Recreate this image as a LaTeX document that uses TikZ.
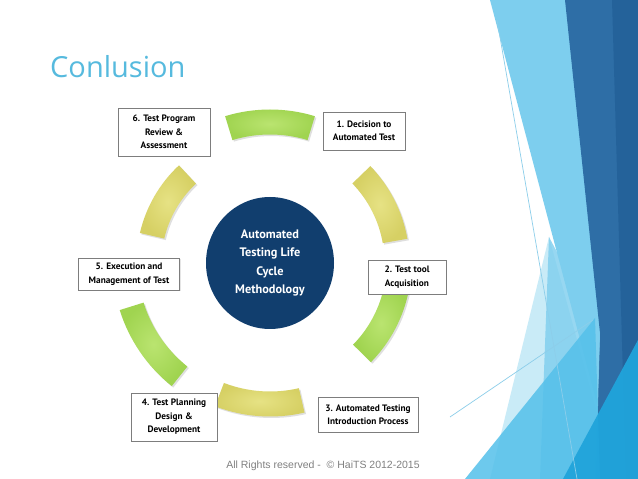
\documentclass[tikz,border=0pt]{standalone}
\usepackage{fontspec}
\setmainfont{PT Sans}
\newfontfamily\titlefont{Open Sans}
\newfontfamily\footfont{Liberation Sans}
\usetikzlibrary{shapes.geometric, shadows, calc}

\definecolor{titleblue}{RGB}{86,186,222}
\definecolor{hubblue}{RGB}{17,62,110}
\definecolor{boxgray}{RGB}{125,125,125}
\definecolor{segGreen}{RGB}{160,212,80}
\definecolor{segGreenLt}{RGB}{186,228,112}
\definecolor{segYellow}{RGB}{214,208,100}
\definecolor{segYellowLt}{RGB}{230,226,132}
\definecolor{bandLight}{RGB}{125,206,238}
\definecolor{bandPale}{RGB}{196,233,247}
\definecolor{bandMid}{RGB}{84,192,234}
\definecolor{bandDark}{RGB}{46,110,166}
\definecolor{bandDarker}{RGB}{36,98,154}
\definecolor{bandBright}{RGB}{32,164,219}
\definecolor{thinLine}{RGB}{140,206,234}

% ring segment: angle, radius, inner colour, outer colour
\newcommand{\ringseg}[4]{%
  \shade[segment, inner color=#3, outer color=#4]
    ($(hub.center)+({#1-17}:{#2+12.5})$) arc[start angle={#1-17}, end angle={#1+17}, radius={#2+12.5}]
    -- ($(hub.center)+({#1+17}:{#2-12.5})$) arc[start angle={#1+17}, end angle={#1-17}, radius={#2-12.5}] -- cycle;}

\begin{document}
\begin{tikzpicture}[x=1pt, y=1pt,
  stage/.style={draw=boxgray, fill=white, line width=0.8pt, align=center, inner sep=2pt, font=\bfseries\fontsize{9.3}{13.5}\selectfont, drop shadow={opacity=0.2, shadow xshift=1pt, shadow yshift=-1pt}},
  hub/.style={ellipse, fill=hubblue, text=white, align=center, minimum width=128, minimum height=132, font=\bfseries\fontsize{12.3}{18.5}\selectfont},
  segment/.style={drop shadow={opacity=0.25, shadow xshift=1.5pt, shadow yshift=-1.5pt}}]
\useasboundingbox (0,0) rectangle (638,479);
\fill[white] (0,0) rectangle (638,479);

% right-hand decoration
\fill[bandLight] (490,479) -- (570,479) -- (617,0) -- cycle;
\fill[bandPale, opacity=0.9] (549,242) -- (490,0) -- (615,0) -- cycle;
\fill[bandDark] (565,479) -- (638,479) -- (638,0) -- (595,0) -- (600,146) -- cycle;
\fill[bandDarker] (612,479) -- (638,479) -- (638,0) -- (626,0) -- cycle;
\fill[bandLight, opacity=0.8] (549,242) -- (600,146) -- (596,0) -- (540,0) -- cycle;
\fill[bandMid, opacity=0.85] (595,161) -- (465,0) -- (600,0) -- cycle;
\fill[bandBright, opacity=0.95] (638,139) -- (563,0) -- (638,0) -- cycle;
\draw[thinLine, line width=0.7pt] (497,459) -- (577,0);
\draw[thinLine, line width=0.7pt] (450,62) -- (593,159);

% title and footer
\node[anchor=base west, inner sep=0pt, text=titleblue, font=\titlefont\fontsize{29}{35}\selectfont] (title) at (50,401) {Conlusion};
\node[text=gray, font=\footfont\fontsize{10.5}{12}\selectfont] (footer) at (323,13) {All Rights reserved -\ \ © HaiTS 2012-2015};

% centre and ring
\node[hub] (hub) at (270,216) {Automated\\Testing Life\\Cycle\\Methodology};
\ringseg{90}{141}{segGreenLt}{segGreen}
\ringseg{27}{127}{segYellowLt}{segYellow}
\ringseg{-27.5}{129}{segGreenLt}{segGreen}
\ringseg{-94}{141}{segYellowLt}{segYellow}
\ringseg{-145.6}{145}{segGreenLt}{segGreen}
\ringseg{150}{121}{segYellowLt}{segYellow}

% stages
\node[stage, minimum width=82, minimum height=38] (decision) at (364,348) {1. Decision to\\Automated Test};
\node[stage, minimum width=78, minimum height=34] (acquire) at (407,202) {2. Test tool\\Acquisition};
\node[stage, minimum width=100, minimum height=35] (intro) at (368,64) {3. Automated Testing\\Introduction Process};
\node[stage, minimum width=86, minimum height=48] (planning) at (174,62) {4. Test Planning\\Design \&\\Development};
\node[stage, minimum width=101, minimum height=32] (execution) at (129,205) {5. Execution and\\Management of Test};
\node[stage, minimum width=92, minimum height=48] (review) at (164,347) {6. Test Program\\Review \&\\Assessment};
\end{tikzpicture}
\end{document}
